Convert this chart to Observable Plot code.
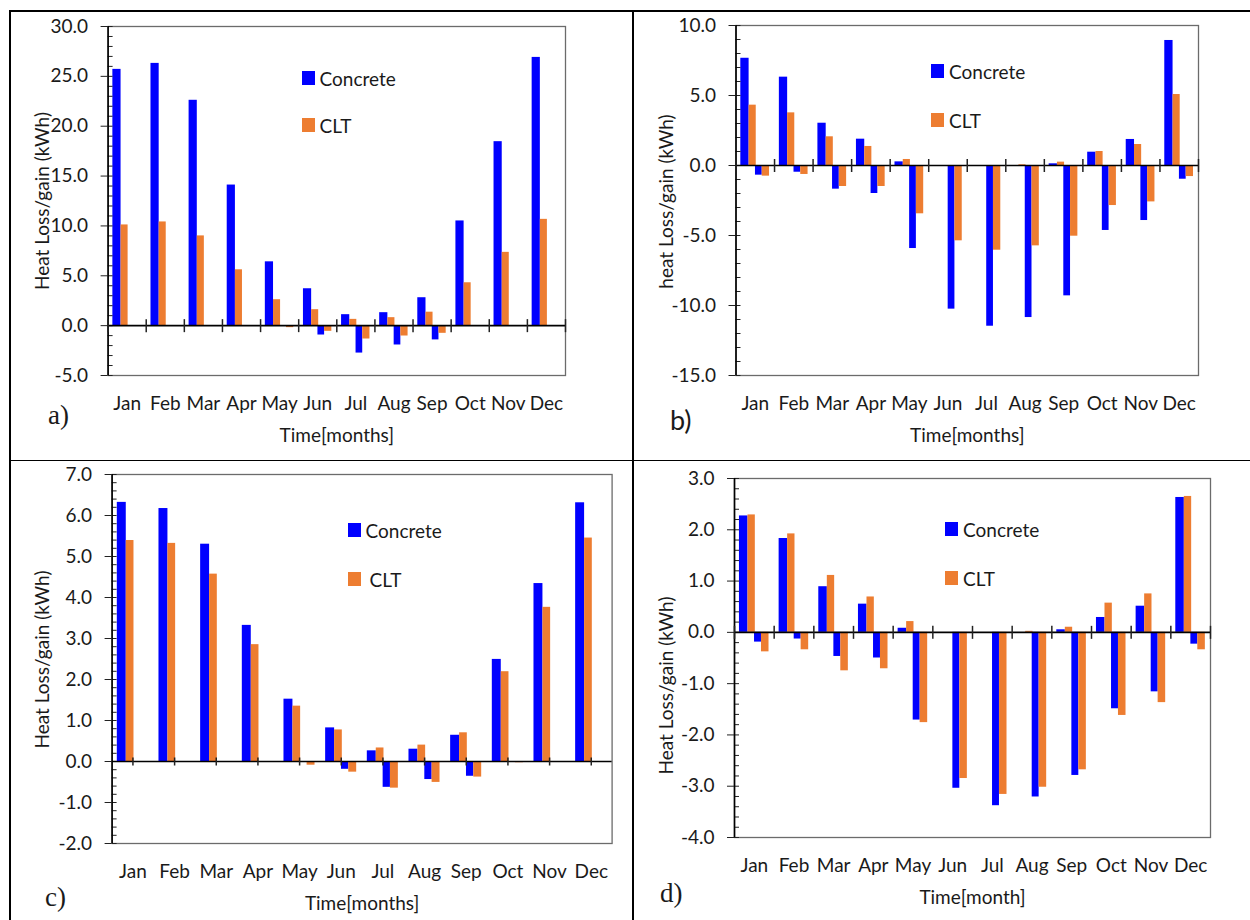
<!DOCTYPE html>
<html>
<head>
<meta charset="utf-8">
<script src="https://cdn.jsdelivr.net/npm/d3@7"></script>
<script src="https://cdn.jsdelivr.net/npm/@observablehq/plot@0.6"></script>
<style>
  body { margin: 0; background: #fff; }
  #page { position: relative; width: 1250px; height: 920px; overflow: hidden; font-family: Lato, "Open Sans", sans-serif; color: #1a1a1a; }
  .cell { position: absolute; }
  .cell svg { overflow: visible; background: transparent; }
  .bline { position: absolute; background: #000; z-index: 5; }
  .leg { position: absolute; font-size: 19px; line-height: 19px; white-space: nowrap; z-index: 6; }
  .sw { position: absolute; width: 13px; height: 14px; z-index: 6; }
  .letter { position: absolute; font-size: 27px; line-height: 27px; z-index: 6; }
  .serif { font-family: "Liberation Serif", "DejaVu Serif", serif; }
  .sans { font-family: Lato, sans-serif; }
</style>
</head>
<body>
<div id="page"></div>
<script>
// ---------------- data ----------------
const months = ["Jan", "Feb", "Mar", "Apr", "May", "Jun", "Jul", "Aug", "Sep", "Oct", "Nov", "Dec"];
const seriesNames = ["Concrete", "CLT"];

// panel a
const aConcreteGain = [25.7, 26.3, 22.6, 14.1, 6.4, 3.7, 1.1, 1.3, 2.8, 10.5, 18.45, 26.9];
const aCltGain      = [10.1, 10.4, 9.0, 5.6, 2.6, 1.6, 0.63, 0.8, 1.35, 4.3, 7.35, 10.66];
const aConcreteLoss = [0, 0, 0, 0, -0.05, -0.94, -2.75, -1.94, -1.43, 0, 0, 0];
const aCltLoss      = [0, 0, 0, 0, -0.2, -0.57, -1.34, -1.04, -0.77, -0.03, 0, 0];
const aYTicks = [-5, 0, 5, 10, 15, 20, 25, 30];

// panel b
const bConcreteGain = [7.66, 6.31, 3.02, 1.88, 0.26, 0, 0, 0, 0.12, 0.95, 1.86, 8.93];
const bCltGain      = [4.31, 3.76, 2.05, 1.36, 0.43, 0, 0, 0.05, 0.24, 1.0, 1.5, 5.07];
const bConcreteLoss = [-0.69, -0.48, -1.69, -2.0, -5.93, -10.26, -11.48, -10.86, -9.31, -4.64, -3.93, -0.98];
const bCltLoss      = [-0.76, -0.64, -1.5, -1.5, -3.45, -5.38, -6.05, -5.74, -5.05, -2.86, -2.6, -0.79];
const bYTicks = [-15, -10, -5, 0, 5, 10];

// panel c
const cConcreteGain = [6.32, 6.17, 5.3, 3.32, 1.52, 0.82, 0.26, 0.3, 0.64, 2.49, 4.34, 6.31];
const cCltGain      = [5.39, 5.32, 4.57, 2.85, 1.35, 0.77, 0.33, 0.4, 0.7, 2.19, 3.76, 5.45];
const cConcreteLoss = [0, 0, 0, 0, 0, -0.19, -0.63, -0.44, -0.36, 0, 0, 0];
const cCltLoss      = [0, 0, 0, -0.01, -0.09, -0.26, -0.65, -0.51, -0.38, -0.03, 0, 0];
const cYTicks = [-2, -1, 0, 1, 2, 3, 4, 5, 6, 7];

// panel d
const dConcreteGain = [2.27, 1.83, 0.89, 0.55, 0.08, 0, 0, 0, 0.05, 0.29, 0.51, 2.63];
const dCltGain      = [2.29, 1.92, 1.11, 0.69, 0.21, 0, 0, 0.02, 0.1, 0.57, 0.75, 2.65];
const dConcreteLoss = [-0.19, -0.13, -0.47, -0.5, -1.71, -3.04, -3.38, -3.21, -2.79, -1.49, -1.16, -0.23];
const dCltLoss      = [-0.38, -0.34, -0.75, -0.71, -1.76, -2.85, -3.16, -3.02, -2.68, -1.62, -1.37, -0.34];
const dYTicks = [-4, -3, -2, -1, 0, 1, 2, 3];

// ---------------- layout / style ----------------
const colors = { Concrete: "#0000ff", CLT: "#ed7d31" };
// bar slots inside each month band: [Concrete gain, CLT gain, Concrete loss, CLT loss]
const barStart = [0.125, 0.34, 0.505, 0.68];
const barEnd   = [0.34, 0.525, 0.68, 0.87];

const panels = [
  { id: "a", left: 0, top: 0, width: 632, ml: 107.6, mr: 67, mt: 26, mb: 85,
    series: [aConcreteGain, aCltGain, aConcreteLoss, aCltLoss], yTicks: aYTicks, minorStep: 1,
    yTitle: "Heat Loss/gain (kWh)", xTitle: "Time[months]", yTitleDy: 0, yTitleDx: -65.6,
    monthTicksAtCenter: false,
    legend: { x: 302, y1: 71, y2: 118, tx: 319.5, tx2: 319.5 },
    letter: { text: "a)", x: 48, y: 402, cls: "serif" } },
  { id: "b", left: 632, top: 0, width: 618, ml: 103.5, mr: 52, mt: 25, mb: 85,
    series: [bConcreteGain, bCltGain, bConcreteLoss, bCltLoss], yTicks: bYTicks, minorStep: 1,
    yTitle: "heat Loss/gain (kWh)", xTitle: "Time[months]", yTitleDy: 1, yTitleDx: -69.5,
    monthTicksAtCenter: false,
    legend: { x: 931, y1: 64, y2: 113, tx: 949, tx2: 949 },
    letter: { text: "b)", x: 670, y: 406, cls: "sans" } },
  { id: "c", left: 0, top: 460, width: 632, ml: 111.6, mr: 20.4, mt: 14, mb: 77,
    series: [cConcreteGain, cCltGain, cConcreteLoss, cCltLoss], yTicks: cYTicks, minorStep: 0.2,
    yTitle: "Heat Loss/gain (kWh)", xTitle: "Time[months]", yTitleDy: 0.5, yTitleDx: -69.6,
    monthTicksAtCenter: true,
    legend: { x: 348, y1: 523, y2: 572, tx: 365.5, tx2: 369.5 },
    letter: { text: "c)", x: 45, y: 884, cls: "serif" } },
  { id: "d", left: 632, top: 460, width: 618, ml: 102, mr: 40, mt: 18, mb: 83,
    series: [dConcreteGain, dCltGain, dConcreteLoss, dCltLoss], yTicks: dYTicks, minorStep: 0.2,
    yTitle: "Heat Loss/gain (kWh)", xTitle: "Time[month]", yTitleDy: 27.5, yTitleDx: -68,
    monthTicksAtCenter: false,
    legend: { x: 945, y1: 522, y2: 571, tx: 963, tx2: 963 },
    letter: { text: "d)", x: 660, y: 880, cls: "serif" } }
];

const page = document.getElementById("page");

// vertical tick symbol for the month marks on the zero line
const vline = {
  draw(context, size) {
    const r = Math.sqrt(size / Math.PI);
    context.moveTo(0, -r);
    context.lineTo(0, r);
  }
};

for (const p of panels) {
  const rows = [];
  p.series.forEach((arr, k) => {
    arr.forEach((v, i) => {
      rows.push({ month: i, slot: k, material: seriesNames[k % 2], value: v });
    });
  });
  const yMin = p.yTicks[0], yMax = p.yTicks[p.yTicks.length - 1];
  const nMinor = Math.round((yMax - yMin) / p.minorStep);
  const minor = d3.range(nMinor + 1).map(j => +(yMin + j * p.minorStep).toFixed(4));
  const frameW = p.width - p.ml - p.mr;
  const centers = months.map((m, i) => i + 0.5);
  const bounds = d3.range(13);
  const monthMarks = p.monthTicksAtCenter ? centers : bounds;
  const tickR = p.monthTicksAtCenter ? 4 : 6.5;

  const chart = Plot.plot({
    width: p.width,
    height: 460,
    marginLeft: p.ml, marginRight: p.mr, marginTop: p.mt, marginBottom: p.mb,
    style: { fontFamily: "Lato, 'Open Sans', sans-serif", fontSize: "19px", color: "#1a1a1a", background: "transparent", overflow: "visible" },
    x: { domain: [0, 12] },
    y: { domain: [yMin, yMax] },
    marks: [
      Plot.frame({ stroke: "#6b6b6b", strokeWidth: 1.3 }),
      ...seriesNames.map(name => Plot.rectY(rows.filter(d => d.material === name), {
        x1: d => d.month + barStart[d.slot],
        x2: d => d.month + barEnd[d.slot],
        y1: 0,
        y2: "value",
        fill: colors[name]
      })),
      Plot.ruleY(minor, { insetRight: frameW - 5, stroke: "#222", strokeWidth: 1 }),
      Plot.ruleY([0], { stroke: "#000", strokeWidth: 1.6 }),
      Plot.ruleX([0], { stroke: "#000", strokeWidth: 1.6 }),
      Plot.dot(monthMarks, { x: d => d, y: 0, symbol: vline, r: tickR, fill: "none", stroke: "#222", strokeWidth: 1.5 }),
      Plot.axisY({ ticks: p.yTicks, tickFormat: d => d.toFixed(1), tickSize: 7, tickPadding: 13, label: null, stroke: "#222" }),
      Plot.axisX({ ticks: centers, tickFormat: d => months[Math.floor(d)], tickSize: 0, tickPadding: 21, label: null }),
      Plot.text([p.xTitle], { frameAnchor: "bottom", textAnchor: "middle", lineAnchor: "middle", dy: 60, fontSize: 19 }),
      Plot.text([p.yTitle], { frameAnchor: "left", textAnchor: "middle", lineAnchor: "middle", rotate: -90, dx: p.yTitleDx, dy: p.yTitleDy, fontSize: 19 })
    ]
  });

  const cell = document.createElement("div");
  cell.className = "cell";
  cell.style.left = p.left + "px";
  cell.style.top = p.top + "px";
  cell.appendChild(chart);
  page.appendChild(cell);

  // legend
  const L = p.legend;
  [[seriesNames[0], L.y1, L.tx], [seriesNames[1], L.y2, L.tx2]].forEach(([name, y, tx]) => {
    const sw = document.createElement("div");
    sw.className = "sw";
    sw.style.left = L.x + "px";
    sw.style.top = y + "px";
    sw.style.background = colors[name];
    page.appendChild(sw);
    const t = document.createElement("div");
    t.className = "leg";
    t.style.left = tx + "px";
    t.style.top = (y - 2.5) + "px";
    t.textContent = name;
    page.appendChild(t);
  });

  // panel letter
  const lt = document.createElement("div");
  lt.className = "letter " + p.letter.cls;
  lt.style.left = p.letter.x + "px";
  lt.style.top = p.letter.y + "px";
  lt.textContent = p.letter.text;
  page.appendChild(lt);
}

// cell borders
const borders = [
  { l: 9, t: 10, w: 1241, h: 2 },
  { l: 9, t: 10, w: 2, h: 910 },
  { l: 632, t: 10, w: 2, h: 910 },
  { l: 9, t: 460, w: 1241, h: 1.2 }
];
for (const b of borders) {
  const d = document.createElement("div");
  d.className = "bline";
  d.style.left = b.l + "px"; d.style.top = b.t + "px";
  d.style.width = b.w + "px"; d.style.height = b.h + "px";
  page.appendChild(d);
}
</script>
</body>
</html>
